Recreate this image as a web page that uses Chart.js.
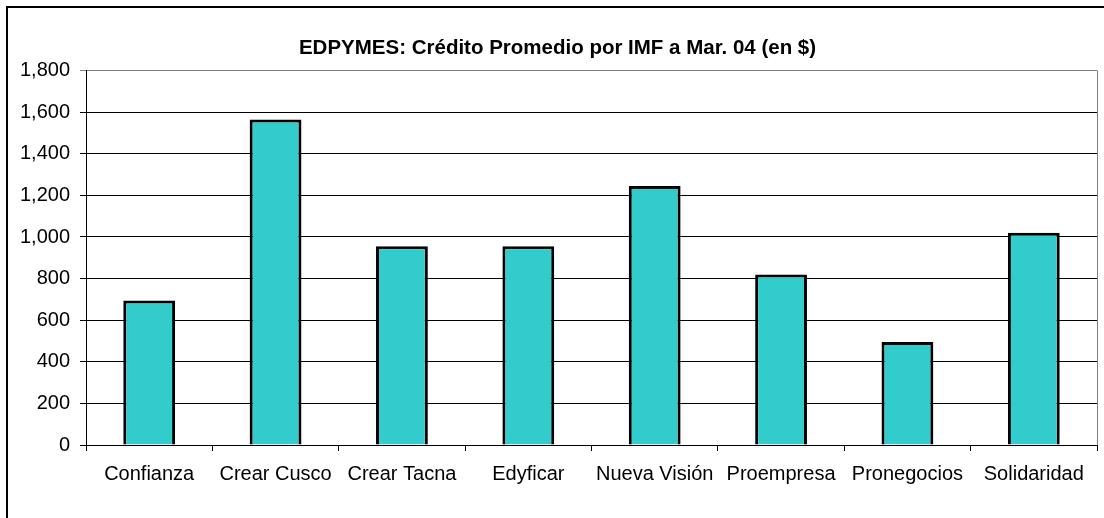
<!DOCTYPE html>
<html>
<head>
<meta charset="utf-8">
<script src="https://cdn.jsdelivr.net/npm/chart.js@4/dist/chart.umd.min.js"></script>
<style>
  html, body { margin: 0; padding: 0; background: #fff; overflow: hidden; }
  #wrap { position: relative; width: 1104px; height: 518px; }
  #frame { position: absolute; left: 6px; top: 6px; width: 1200px; height: 600px; border: 2px solid #000; }
  canvas { position: absolute; left: 0; top: 0; }
</style>
</head>
<body>
<div id="wrap">
  <div id="frame"></div>
  <canvas id="chart" width="1104" height="518"></canvas>
</div>
<script>
const categories = ["Confianza", "Crear Cusco", "Crear Tacna", "Edyficar", "Nueva Visión", "Proempresa", "Pronegocios", "Solidaridad"];
const creditValues = [695, 1565, 955, 955, 1245, 820, 495, 1020];
const yTicks = [0, 200, 400, 600, 800, 1000, 1200, 1400, 1600, 1800];

const fontFamily = "'Liberation Sans', Arial, sans-serif";

// plot-area right edge (Excel draws a grey frame there)
const plotFrame = {
  id: "plotFrame",
  afterDraw(chart) {
    const { ctx, chartArea } = chart;
    ctx.save();
    ctx.strokeStyle = "#808080";
    ctx.lineWidth = 1;
    ctx.beginPath();
    ctx.moveTo(chartArea.right + 0.5, chartArea.top);
    ctx.lineTo(chartArea.right + 0.5, chartArea.bottom);
    ctx.stroke();
    ctx.restore();
  }
};

new Chart(document.getElementById("chart"), {
  type: "bar",
  data: {
    labels: categories,
    datasets: [{
      data: creditValues,
      backgroundColor: "#33CCCC",
      borderColor: "#000",
      borderWidth: 3,
      barPercentage: 0.41,
      categoryPercentage: 1
    }]
  },
  options: {
    responsive: false,
    animation: false,
    layout: { padding: { left: 18, right: 7, top: 0, bottom: 0 } },
    plugins: {
      legend: { display: false },
      tooltip: { enabled: false },
      title: {
        display: true,
        text: "EDPYMES: Crédito Promedio por IMF a Mar. 04 (en $)",
        color: "#000",
        font: { family: fontFamily, size: 20.5, weight: "bold" },
        padding: { top: 36, bottom: 10 }
      }
    },
    scales: {
      x: {
        offset: true,
        afterFit: (scale) => { scale.height = 73; },
        grid: { drawOnChartArea: false, drawTicks: true, tickLength: 6, color: "#000" },
        border: { color: "#000", width: 1 },
        ticks: { color: "#000", padding: 11, maxRotation: 0, font: { family: fontFamily, size: 20 } }
      },
      y: {
        min: 0,
        max: 1800,
        afterFit: (scale) => { scale.width = 68; },
        afterBuildTicks: (scale) => { scale.ticks = yTicks.map(v => ({ value: v })); },
        grid: {
          color: (ctx) => (ctx.tick && ctx.tick.value === 1800 ? "#808080" : "#000"),
          tickLength: 6,
          lineWidth: 1
        },
        border: { color: "#000", width: 1 },
        ticks: {
          color: "#000",
          padding: 10,
          font: { family: fontFamily, size: 20 },
          callback: (v) => v.toLocaleString("en-US")
        }
      }
    }
  },
  plugins: [plotFrame]
});
</script>
</body>
</html>
